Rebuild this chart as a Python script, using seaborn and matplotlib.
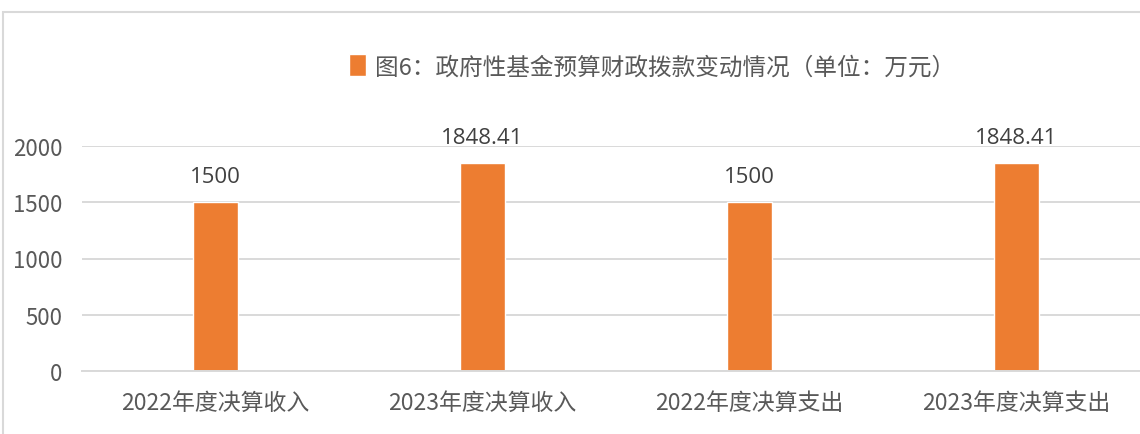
import pandas as pd
import seaborn as sns
import matplotlib.pyplot as plt
from matplotlib.patches import Rectangle

# datos del grafico
categorias = ['2022年度决算收入', '2023年度决算收入', '2022年度决算支出', '2023年度决算支出']
valores = [1500, 1848.41, 1500, 1848.41]
etiquetas = ['1500', '1848.41', '1500', '1848.41']
serie = '图6：政府性基金预算财政拨款变动情况（单位：万元）'
yticks = [0, 500, 1000, 1500, 2000]

df = pd.DataFrame({'categoria': categorias, 'valor': valores, 'serie': serie})

sns.set_theme(style="white")
plt.rcParams['font.family'] = ['Noto Sans CJK SC', 'DejaVu Sans']

fig = plt.figure(figsize=(11.4, 4.35), dpi=100)
ax = fig.add_axes([82 / 1140, 63 / 435, 1068 / 1140, 225 / 435])

sns.barplot(data=df, x='categoria', y='valor', hue='serie', palette=['#ed7d31'],
            width=0.172, saturation=1, ax=ax)

ax.set_ylim(0, 2000)
ax.set_yticks(yticks)
ax.set_xlabel('')
ax.set_ylabel('')
ax.grid(axis='y', color='#d9d9d9', linewidth=1.4)
ax.set_axisbelow(True)
for s in ['top', 'right', 'left']:
    ax.spines[s].set_visible(False)
ax.spines['bottom'].set_color('#d9d9d9')
ax.spines['bottom'].set_linewidth(1.4)
ax.tick_params(axis='y', length=0, pad=14, labelsize=16, labelcolor='#595959')
ax.tick_params(axis='x', length=0, pad=14, labelsize=16.5, labelcolor='#595959')

# etiquetas de valores arriba de las barras
for bar, txt in zip(ax.patches, etiquetas):
    ax.annotate(txt, (bar.get_x() + bar.get_width() / 2, bar.get_height()),
                xytext=(0, 11), textcoords='offset points', ha='center', va='bottom',
                fontsize=16, color='#404040', family=['Open Sans', 'DejaVu Sans'])

# leyenda arriba
sns.move_legend(ax, 'center left', bbox_to_anchor=(349 / 1140, 1 - 67 / 435),
                bbox_transform=fig.transFigure, title=None, frameon=False,
                fontsize=17, handlelength=0.7, handleheight=1.1, handletextpad=0.4,
                borderpad=0, borderaxespad=0, labelcolor='#595959')

# borde del area del grafico
fig.patches.append(Rectangle((3 / 1140, -0.05), 1.2, (435 - 13) / 435 + 0.05,
                             transform=fig.transFigure, fill=False,
                             edgecolor='#d9d9d9', linewidth=1.5))

fig.savefig('out.png', dpi=100)
